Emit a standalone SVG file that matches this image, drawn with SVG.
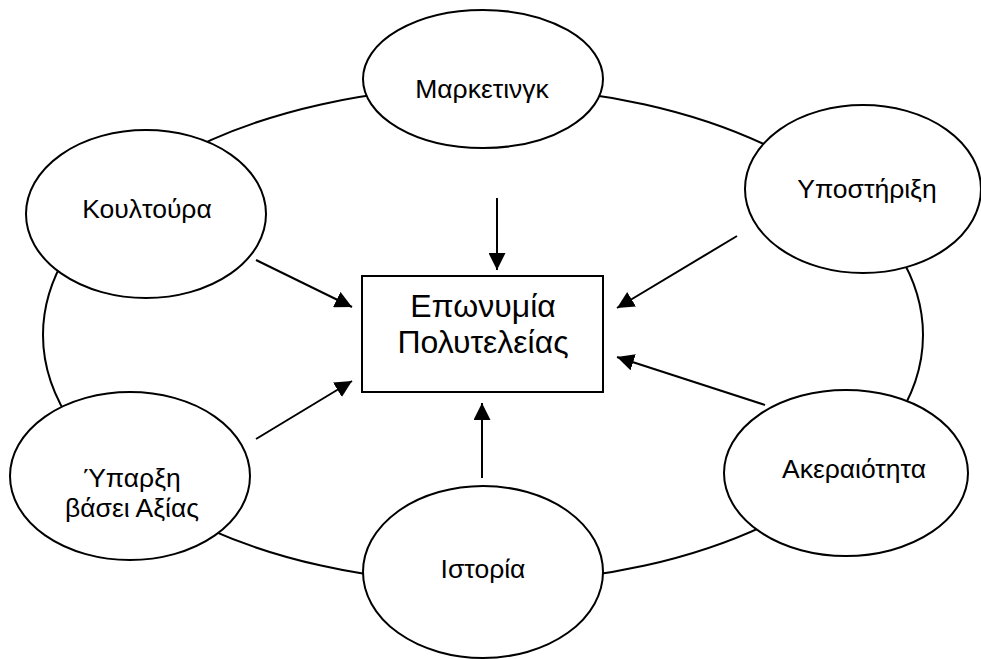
<svg xmlns="http://www.w3.org/2000/svg" width="981" height="659" viewBox="0 0 981 659">
<style>
.e{fill:#fff;stroke:#000;stroke-width:2}
.t{font-family:"Liberation Sans",Arial,sans-serif;font-size:26.5px;fill:#000;text-anchor:middle}
.b{font-size:32px}
.c{stroke:#000;stroke-width:2;fill:none}
</style>
<defs>
<marker id="ah" viewBox="0 0 10 10" refX="10" refY="5" markerWidth="17" markerHeight="17" markerUnits="userSpaceOnUse" orient="auto">
<path d="M0,0 L10,5 L0,10 z" fill="#000"/>
</marker>
</defs>
<rect width="981" height="659" fill="#fff"/>
<ellipse class="c" cx="483" cy="335" rx="440" ry="248"/>
<g id="connectors">
<line class="c" x1="497" y1="198" x2="497" y2="270" marker-end="url(#ah)"/>
<line class="c" x1="256" y1="260" x2="352" y2="307" marker-end="url(#ah)"/>
<line class="c" x1="737" y1="236" x2="617" y2="308" marker-end="url(#ah)"/>
<line class="c" x1="765" y1="405" x2="617" y2="357" marker-end="url(#ah)"/>
<line class="c" x1="256" y1="439" x2="352" y2="381" marker-end="url(#ah)"/>
<line class="c" x1="482" y1="478" x2="482" y2="403" marker-end="url(#ah)"/>
</g>
<g id="center">
<rect x="362" y="276" width="241" height="116" fill="#fff" stroke="#000" stroke-width="2"/>
<text class="t b" x="483" y="317">Επωνυμία</text>
<text class="t b" x="483" y="353">Πολυτελείας</text>
</g>
<g id="marketing">
<ellipse class="e" cx="483" cy="79" rx="120" ry="69"/>
<text class="t" x="482" y="98">Μαρκετινγκ</text>
</g>
<g id="koultoura">
<ellipse class="e" cx="146" cy="214" rx="120" ry="84"/>
<text class="t" x="147" y="218">Κουλτούρα</text>
</g>
<g id="ypostirixi">
<ellipse class="e" cx="863" cy="189" rx="118" ry="84"/>
<text class="t" x="867" y="198">Υποστήριξη</text>
</g>
<g id="yparxi">
<ellipse class="e" cx="130" cy="476" rx="120" ry="84"/>
<text class="t" x="132" y="487">Ύπαρξη</text>
<text class="t" x="132" y="517">βάσει Αξίας</text>
</g>
<g id="istoria">
<ellipse class="e" cx="483" cy="572" rx="120" ry="86"/>
<text class="t" x="483" y="578">Ιστορία</text>
</g>
<g id="akeraiotita">
<ellipse class="e" cx="846" cy="473" rx="122" ry="83"/>
<text class="t" x="854" y="478">Ακεραιότητα</text>
</g>
</svg>
